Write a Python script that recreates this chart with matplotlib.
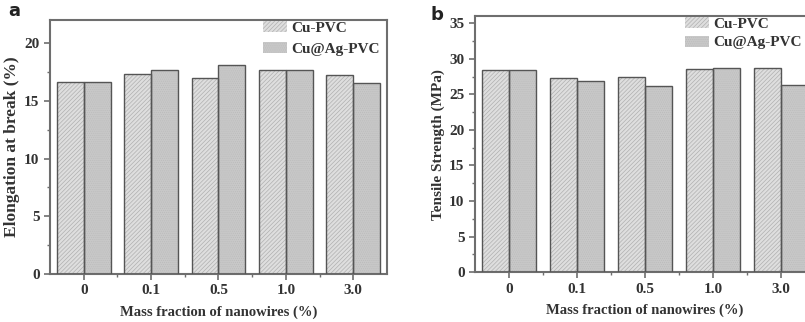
import matplotlib
matplotlib.use("Agg")
import matplotlib.pyplot as plt
import numpy as np

categories = ["0", "0.1", "0.5", "1.0", "3.0"]
series_names = ["Cu-PVC", "Cu@Ag-PVC"]
elong_cu = [16.6, 17.3, 17.0, 17.7, 17.2]
elong_cuag = [16.6, 17.7, 18.1, 17.7, 16.5]
tensile_cu = [28.4, 27.3, 27.4, 28.5, 28.7]
tensile_cuag = [28.4, 26.9, 26.1, 28.7, 26.3]

plt.rcParams['font.family'] = ['Liberation Serif', 'DejaVu Serif']
plt.rcParams['font.weight'] = 'bold'
plt.rcParams['hatch.linewidth'] = 0.5

fig = plt.figure(figsize=(8.05, 3.22), dpi=100)
axA = fig.add_axes([0.0621, 0.149, 0.4186, 0.789])
axB = fig.add_axes([0.590, 0.155, 0.4224, 0.795])

spine_col = '#6e6e6e'
edge_col = '#555555'
styles = [
    dict(face='#dedede', hatch='////////', hcol='#b0b0b0'),
    dict(face='#c8c8c8', hatch='........', hcol='#bcbcbc'),
]

def draw(ax, s1, s2, ylim, yticks, ylabel, ylsize, leg_anchor, spacing):
    x = np.arange(len(categories))
    w = 0.4
    handles = []
    for i, vals in enumerate([s1, s2]):
        st = styles[i]
        pos = x + (i - 0.5) * w
        ax.bar(pos, vals, w, color=st['face'], hatch=st['hatch'],
               edgecolor=st['hcol'], linewidth=0, zorder=2)
        ax.bar(pos, vals, w, fill=False, edgecolor=edge_col, linewidth=1.0, zorder=3)
        h = plt.Rectangle((0, 0), 1, 1, facecolor=st['face'], hatch=st['hatch'],
                          edgecolor=st['hcol'], linewidth=0)
        handles.append(h)
    ax.set_xlim(-0.5, len(categories) - 0.5)
    ax.set_ylim(*ylim)
    ax.set_xticks(x)
    ax.set_xticklabels(categories)
    ax.set_xticks(x[:-1] + 0.5, minor=True)
    ax.set_yticks(yticks)
    ax.set_yticks(np.array(yticks[:-1]) + (yticks[1] - yticks[0]) / 2, minor=True)
    for sp in ax.spines.values():
        sp.set_color(spine_col)
        sp.set_linewidth(1.5)
    ax.tick_params(which='major', direction='out', length=4, width=1.2, color=spine_col,
                   labelsize=11, labelcolor='#333333')
    ax.tick_params(which='minor', direction='out', length=2.5, width=1.0, color=spine_col)
    ax.set_xlabel("Mass fraction of nanowires (%)", fontsize=10.5, fontweight='bold',
                  color='#333333', labelpad=6)
    ax.set_ylabel(ylabel, fontsize=ylsize, fontweight='bold', color='#333333', labelpad=3)
    leg = ax.legend(handles, series_names, loc='upper left', bbox_to_anchor=leg_anchor,
                    bbox_transform=fig.transFigure, frameon=False,
                    fontsize=11, handlelength=1.6, handleheight=0.75, handletextpad=0.25,
                    labelspacing=spacing, borderaxespad=0.0, borderpad=0.0)
    for t in leg.get_texts():
        t.set_color('#333333')

draw(axA, elong_cu, elong_cuag, (0, 22), [0, 5, 10, 15, 20], "Elongation at break (%)",
     12.5, (263 / 805, 1 - 21 / 322), 0.45)
draw(axB, tensile_cu, tensile_cuag, (0, 36), [0, 5, 10, 15, 20, 25, 30, 35], "Tensile Strength (MPa)",
     11, (685 / 805, 1 - 17 / 322), 0.3)

fig.text(8 / 805, 1 - 11 / 322, 'a', fontsize=13, fontweight='bold', family='DejaVu Sans',
         ha='left', va='center', color='#222222')
fig.text(430 / 805, 1 - 15 / 322, 'b', fontsize=13, fontweight='bold', family='DejaVu Sans',
         ha='left', va='center', color='#222222')

fig.savefig("out.png", dpi=100)
